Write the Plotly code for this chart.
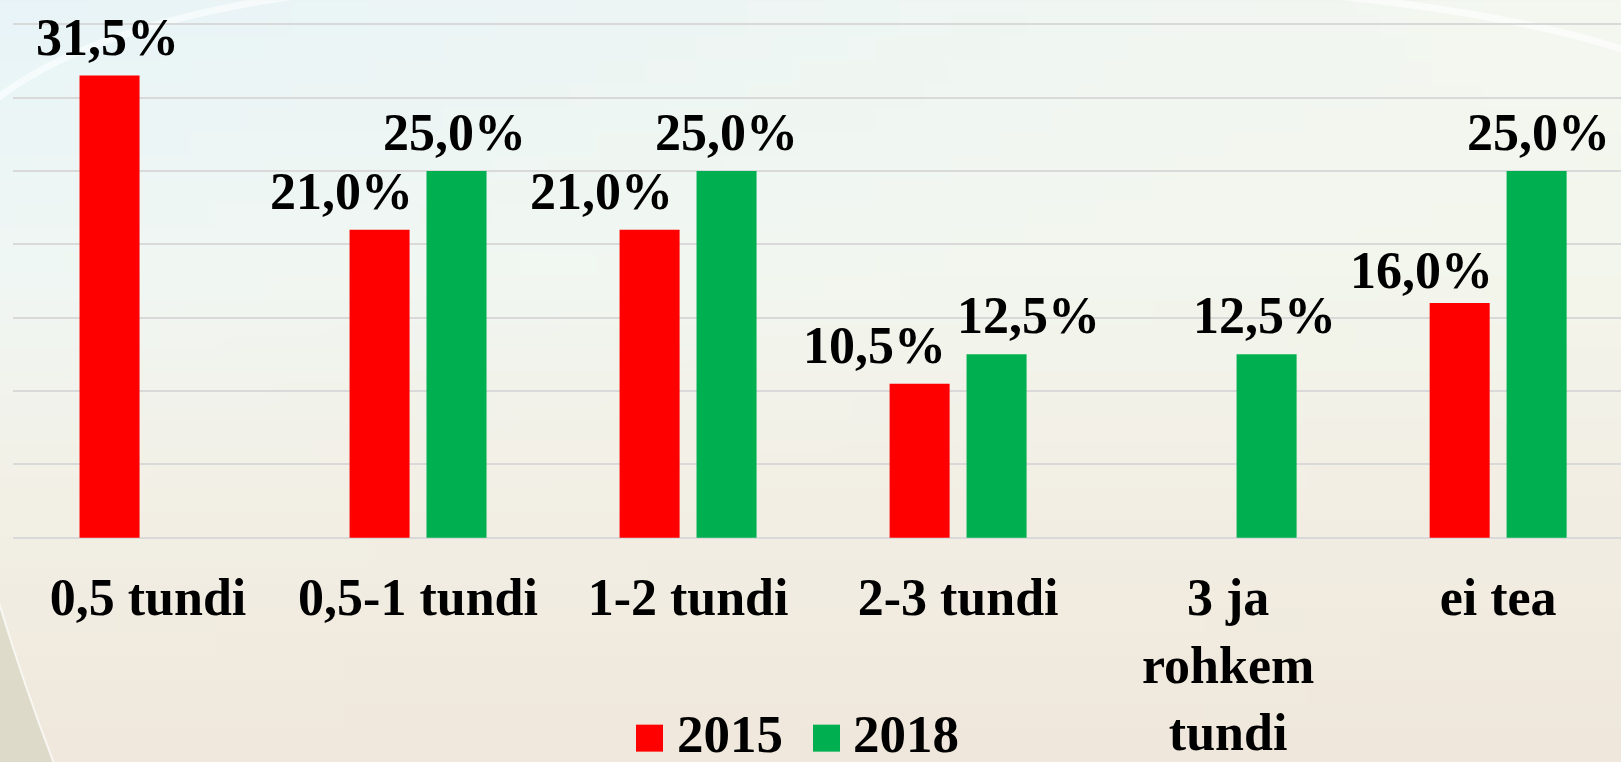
import zlib, struct, base64
import plotly.graph_objects as go

# ---------------- data ----------------
categories = ["0,5 tundi", "0,5-1 tundi", "1-2 tundi", "2-3 tundi", "3 ja rohkem tundi", "ei tea"]
tick_labels = ["0,5 tundi", "0,5-1 tundi", "1-2 tundi", "2-3 tundi", "3 ja<br>rohkem<br>tundi", "ei tea"]
series_names = ["2015", "2018"]
values_2015 = [31.5, 21.0, 21.0, 10.5, None, 16.0]
values_2018 = [None, 25.0, 25.0, 12.5, 12.5, 25.0]

# ---------------- style ----------------
W, H = 1621, 762
Y_MAX, EXT = 35, 0.15
K = (538 - 24) / Y_MAX              # pixels per percent
ML, MR = 13, 0
MT = 24 - EXT * K
MB = (H - 538) - EXT * K
PW, PH = W - ML - MR, H - MT - MB
RED, GREEN = "#ff0000", "#00b050"
FONT = "Liberation Serif"
colors = [RED, GREEN]
label_dx = [[-2, -38, -48, -45, 0, -38], [0, -2, 0, 32, -2, 2]]
label_dy = [[0, 0, 0, 0, 0, -6], [0, 0, 0, 0, 0, 0]]
BAR_OFFSET = 0.1425  # half distance of grouped bar centres in category units


def px2paper(x, y):
    return (x - ML) / PW, (MT + PH - y) / PH


def png_uri(w, h, fn):
    raw = b"".join(b"\x00" + bytes(c for x in range(w) for c in fn(x, y)) for y in range(h))

    def chunk(t, d):
        return struct.pack(">I", len(d)) + t + d + struct.pack(">I", zlib.crc32(t + d) & 0xffffffff)

    png = (b"\x89PNG\r\n\x1a\n" + chunk(b"IHDR", struct.pack(">IIBBBBB", w, h, 8, 2, 0, 0, 0))
           + chunk(b"IDAT", zlib.compress(raw)) + chunk(b"IEND", b""))
    return "data:image/png;base64," + base64.b64encode(png).decode()


stops = [  # (t, left colour, right colour)
    (0.0, (232, 244, 247), (244, 247, 240)),
    (0.35, (240, 247, 244), (243, 246, 236)),
    (0.65, (242, 240, 230), (242, 238, 228)),
    (1.0, (240, 232, 220), (239, 231, 219)),
]


def bg(x, y, w=64, h=32):
    t = y / (h - 1)
    s = x / (w - 1)
    for (t0, l0, r0), (t1, l1, r1) in zip(stops, stops[1:]):
        if t0 <= t <= t1:
            f = (t - t0) / (t1 - t0)
            left = [a + (b - a) * f for a, b in zip(l0, l1)]
            right = [a + (b - a) * f for a, b in zip(r0, r1)]
            return [int(round(a + (b - a) * s)) for a, b in zip(left, right)]
    return [240, 232, 220]


fig = go.Figure()
for name, vals, col in zip(series_names, [values_2015, values_2018], colors):
    fig.add_trace(go.Bar(x=categories, y=vals, name=name, marker=dict(color=col, line=dict(width=0)),
                         showlegend=False, hoverinfo="x+y+name"))

annotations = []
for si, vals in enumerate([values_2015, values_2018]):
    sign = -1 if si == 0 else 1
    for i, v in enumerate(vals):
        if v is None:
            continue
        annotations.append(dict(
            x=i + sign * BAR_OFFSET, y=v, xref="x", yref="y",
            text=f"{v:.1f}%".replace(".", ","), showarrow=False,
            xanchor="center", yanchor="bottom", xshift=label_dx[si][i], yshift=8 + label_dy[si][i],
            font=dict(family=FONT, size=52, color="black", weight="bold")))

# manual legend (large square swatches)
shapes = []
legend_items = [(636, 677), (813, 853)]
for (sx, tx), name, col in zip(legend_items, series_names, colors):
    x0, y0 = px2paper(sx, 752)
    x1, y1 = px2paper(sx + 27, 725)
    shapes.append(dict(type="rect", xref="paper", yref="paper", x0=x0, y0=y0, x1=x1, y1=y1,
                       fillcolor=col, line=dict(width=0), layer="above"))
    ax, ay = px2paper(tx - 2, 742)
    annotations.append(dict(x=ax, y=ay, xref="paper", yref="paper", text=name, showarrow=False,
                            xanchor="left", yanchor="middle", yshift=8,
                            font=dict(family=FONT, size=53, color="black", weight="bold")))


def ppath(pts, close=False):
    q = [px2paper(x, y) for x, y in pts]
    s = f"M{q[0][0]},{q[0][1]} Q{q[1][0]},{q[1][1]} {q[2][0]},{q[2][1]}"
    for x, y in q[3:]:
        s += f" L{x},{y}"
    return s + (" Z" if close else "")


# background decoration: lower-left corner panel and faint white swooshes
shapes.append(dict(type="path", xref="paper", yref="paper", layer="below",
                   path=ppath([(-2, 600), (22, 680), (54, 764), (-2, 764)], close=True),
                   fillcolor="rgba(205,205,185,0.55)", line=dict(color="rgba(255,255,255,0.7)", width=2)))
shapes.append(dict(type="path", xref="paper", yref="paper", layer="below",
                   path=ppath([(-5, 100), (90, 25), (300, -5)]),
                   line=dict(color="rgba(255,255,255,0.55)", width=7)))
shapes.append(dict(type="path", xref="paper", yref="paper", layer="below",
                   path=ppath([(1330, -5), (1520, 15), (1625, 50)]),
                   line=dict(color="rgba(255,255,255,0.6)", width=7)))

ix, iy = px2paper(0, 0)
fig.update_layout(
    width=W, height=H,
    margin=dict(l=ML, r=MR, t=MT, b=MB, pad=0, autoexpand=False),
    paper_bgcolor="#f0ede4", plot_bgcolor="rgba(0,0,0,0)",
    barmode="group", bargap=0.43, bargroupgap=0.22,
    images=[dict(source=png_uri(64, 32, bg), xref="paper", yref="paper", x=ix, y=iy,
                 sizex=W / PW, sizey=H / PH, sizing="stretch", layer="below", xanchor="left", yanchor="top")],
    xaxis=dict(type="category", range=[-0.5, 5.455], tickmode="array", tickvals=categories,
               ticktext=tick_labels, showgrid=False, zeroline=False, showline=False, ticks="",
               ticklabelstandoff=int(round(24 - EXT * K)), automargin=False,
               tickfont=dict(family=FONT, size=52, color="black", weight="bold")),
    yaxis=dict(range=[-EXT, Y_MAX + EXT], dtick=5, tick0=0, showgrid=True, gridcolor="#d9d9d9", gridwidth=2,
               zeroline=False, showticklabels=False, showline=False, ticks="", automargin=False),
    annotations=annotations, shapes=shapes, showlegend=False,
)

fig.write_html("out.html", config={"displayModeBar": False},
               post_script="document.body.style.margin='0';document.body.style.overflow='hidden';")
